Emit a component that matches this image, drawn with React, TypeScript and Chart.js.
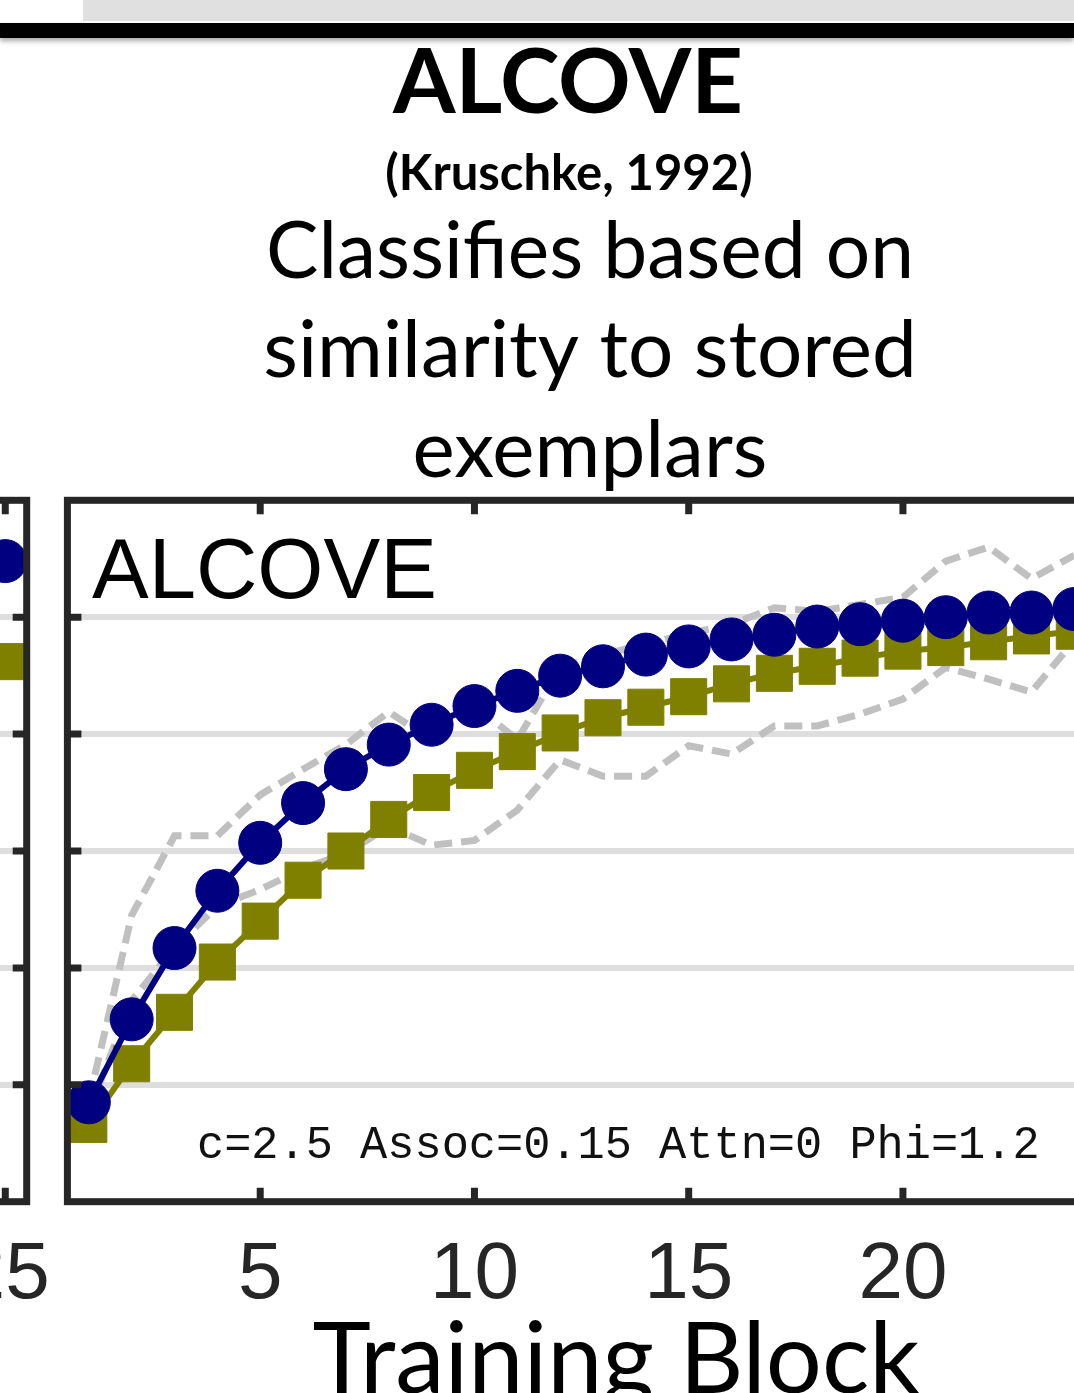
import React, { useEffect, useRef } from 'react';
import { Chart, registerables } from 'chart.js';

Chart.register(...registerables);

// ---------------- data ----------------
const blocks = [1, 2, 3, 4, 5, 6, 7, 8, 9, 10, 11, 12, 13, 14, 15, 16, 17, 18, 19, 20, 21, 22, 23, 24];
const circleSeries = [0.485, 0.556, 0.617, 0.666, 0.707, 0.741, 0.770, 0.791, 0.808, 0.824, 0.837, 0.850, 0.858, 0.868, 0.875, 0.881, 0.885, 0.892, 0.894, 0.897, 0.900, 0.904, 0.904, 0.907];
const squareSeries = [0.466, 0.518, 0.562, 0.605, 0.640, 0.675, 0.700, 0.727, 0.750, 0.769, 0.785, 0.801, 0.814, 0.823, 0.832, 0.843, 0.852, 0.858, 0.865, 0.871, 0.874, 0.879, 0.884, 0.888];
const upperBound = [0.486, 0.645, 0.713, 0.713, 0.748, 0.770, 0.791, 0.819, 0.795, 0.825, 0.795, 0.857, 0.868, 0.877, 0.886, 0.894, 0.908, 0.905, 0.911, 0.917, 0.948, 0.960, 0.933, 0.953];
const lowerBound = [0.477, 0.572, 0.617, 0.653, 0.667, 0.685, 0.698, 0.721, 0.705, 0.709, 0.735, 0.778, 0.764, 0.764, 0.790, 0.783, 0.807, 0.807, 0.817, 0.830, 0.857, 0.847, 0.836, 0.880];

// neighbouring (clipped) panel on the left: only its last block is visible
const prevBlocks = [25];
const prevCircleSeries = [0.948];
const prevSquareSeries = [0.862];

const xTickValues = [5, 10, 15, 20, 25];
const yTickValues = [0.5, 0.6, 0.7, 0.8, 0.9];
const xMin = 0.5;
const xMax = 25.5;
const yMin = 0.4;
const yMax = 1.0;

const panelLabel = 'ALCOVE';
const paramText = 'c=2.5 Assoc=0.15 Attn=0 Phi=1.2';
const xAxisTitle = 'Training Block';
const headTitle = 'ALCOVE';
const headCite = '(Kruschke, 1992)';
const headLines = ['Classifies based on', 'similarity to stored', 'exemplars'];

// ---------------- styles ----------------
const NAVY = '#000080';
const OLIVE = '#808000';
const GRAY = '#c0c0c0';
const AXIS = '#262626';

const toXY = (xs: number[], ys: number[]) => xs.map((x, i) => ({ x, y: ys[i] }));

const framePlugin = {
  id: 'frameTicks',
  afterDatasetsDraw(chart: any) {
    const { ctx, chartArea: a, scales } = chart;
    ctx.save();
    ctx.strokeStyle = AXIS;
    ctx.lineWidth = 7;
    ctx.lineCap = 'butt';
    ctx.setLineDash([]);
    ctx.beginPath();
    xTickValues.forEach((v) => {
      const px = scales.x.getPixelForValue(v);
      ctx.moveTo(px, a.top);
      ctx.lineTo(px, a.top + 14);
      ctx.moveTo(px, a.bottom);
      ctx.lineTo(px, a.bottom - 14);
    });
    yTickValues.forEach((v) => {
      const py = scales.y.getPixelForValue(v);
      ctx.moveTo(a.left, py);
      ctx.lineTo(a.left + 14, py);
      ctx.moveTo(a.right, py);
      ctx.lineTo(a.right - 14, py);
    });
    ctx.stroke();
    ctx.lineJoin = 'miter';
    ctx.strokeRect(a.left, a.top, a.right - a.left, a.bottom - a.top);
    ctx.restore();
  },
};

const textPlugin = {
  id: 'texts',
  afterDraw(chart: any) {
    const { ctx } = chart;
    ctx.save();
    ctx.textBaseline = 'alphabetic';
    ctx.fillStyle = '#000';
    // panel label
    ctx.textAlign = 'left';
    ctx.font = '85px "Liberation Sans", Arial, sans-serif';
    ctx.fillText(panelLabel, 92, 598);
    ctx.fillStyle = '#111';
    ctx.font = '45.3px "Liberation Mono", "Courier New", monospace';
    ctx.fillText(paramText, 197, 1158);
    ctx.fillStyle = '#000';
    // heading
    ctx.textAlign = 'center';
    ctx.font = 'bold 90px Lato, sans-serif';
    ctx.fillText(headTitle, 568, 113);
    ctx.font = 'bold 49px Lato, sans-serif';
    ctx.fillText(headCite, 569, 190);
    const sizes = [78.5, 80, 80];
    const baselines = [278, 377, 477];
    headLines.forEach((t, i) => {
      ctx.font = `${sizes[i]}px Lato, sans-serif`;
      ctx.fillText(t, 590, baselines[i]);
    });
    // x-axis title
    ctx.font = '99px Lato, sans-serif';
    ctx.fillText(xAxisTitle, 616, 1393);
    ctx.restore();
  },
};

function makeOptions(yAxisWidth: number, padRight: number): any {
  return {
    responsive: false,
    animation: false,
    devicePixelRatio: 1,
    layout: { padding: { top: 500.3, right: padRight, left: 0, bottom: 0 } },
    plugins: { legend: { display: false }, tooltip: { enabled: false }, title: { display: false } },
    scales: {
      x: {
        type: 'linear',
        min: xMin,
        max: xMax,
        afterBuildTicks: (scale: any) => {
          scale.ticks = xTickValues.map((v) => ({ value: v }));
        },
        afterFit: (scale: any) => {
          scale.height = 191.3;
        },
        grid: { display: false, drawTicks: false, tickLength: 0 },
        border: { display: false },
        ticks: {
          color: AXIS,
          font: { family: '"Liberation Sans", Arial, sans-serif', size: 80 },
          padding: 26,
          maxRotation: 0,
          autoSkip: false,
          callback: (v: any) => String(v),
        },
      },
      y: {
        type: 'linear',
        min: yMin,
        max: yMax,
        afterBuildTicks: (scale: any) => {
          scale.ticks = [yMin, ...yTickValues, yMax].map((v) => ({ value: v }));
        },
        afterFit: (scale: any) => {
          scale.width = yAxisWidth;
        },
        grid: { color: '#dedede', lineWidth: 6, drawTicks: false, tickLength: 0 },
        border: { display: false },
        ticks: { display: false },
      },
    },
  };
}

const circleStyle = {
  borderColor: NAVY,
  backgroundColor: NAVY,
  borderWidth: 6,
  pointStyle: 'circle',
  pointRadius: 21.5,
  pointBorderWidth: 1,
  pointBackgroundColor: NAVY,
  pointBorderColor: NAVY,
  tension: 0,
  clip: false,
};
const squareStyle = {
  borderColor: OLIVE,
  backgroundColor: OLIVE,
  borderWidth: 6,
  pointStyle: 'rect',
  pointRadius: 25.5,
  pointBorderWidth: 1,
  pointBackgroundColor: OLIVE,
  pointBorderColor: OLIVE,
  tension: 0,
  clip: false,
};
const dashStyle = {
  borderColor: GRAY,
  borderWidth: 7,
  borderDash: [18, 9],
  borderCapStyle: 'butt',
  pointRadius: 0,
  tension: 0,
  fill: false,
  clip: false,
};

export default function App() {
  const mainRef = useRef<HTMLCanvasElement | null>(null);
  const prevRef = useRef<HTMLCanvasElement | null>(null);

  useEffect(() => {
    const prev = new Chart(prevRef.current as HTMLCanvasElement, {
      type: 'line',
      data: {
        datasets: [
          { label: 'prev circles', data: toXY(prevBlocks, prevCircleSeries), ...circleStyle } as any,
          { label: 'prev squares', data: toXY(prevBlocks, prevSquareSeries), ...squareStyle } as any,
        ],
      },
      options: makeOptions(55.5, 123.3),
      plugins: [framePlugin],
    });
    const main = new Chart(mainRef.current as HTMLCanvasElement, {
      type: 'line',
      data: {
        datasets: [
          { label: 'circles', data: toXY(blocks, circleSeries), ...circleStyle } as any,
          { label: 'squares', data: toXY(blocks, squareSeries), ...squareStyle } as any,
          { label: 'upper', data: toXY(blocks, upperBound), ...dashStyle } as any,
          { label: 'lower', data: toXY(blocks, lowerBound), ...dashStyle } as any,
        ],
      },
      options: makeOptions(67.4, 61.4),
      plugins: [framePlugin, textPlugin],
    });
    return () => {
      prev.destroy();
      main.destroy();
    };
  }, []);

  return (
    <div
      style={{
        position: 'absolute',
        left: 0,
        top: 0,
        width: 1074,
        height: 1393,
        overflow: 'hidden',
        background: '#fff',
      }}
    >
      <div style={{ position: 'absolute', left: 83, top: 0, width: 991, height: 21, background: '#e0e0e0' }} />
      <div
        style={{
          position: 'absolute',
          left: 0,
          top: 23,
          width: 1074,
          height: 15,
          background: '#000',
          boxShadow: '0 3px 5px rgba(0,0,0,0.35)',
        }}
      />
      <canvas
        ref={prevRef}
        width={1250}
        height={1393}
        style={{ position: 'absolute', left: -1100, top: 0, width: 1250, height: 1393 }}
      />
      <canvas
        ref={mainRef}
        width={1200}
        height={1393}
        style={{ position: 'absolute', left: 0, top: 0, width: 1200, height: 1393 }}
      />
    </div>
  );
}
